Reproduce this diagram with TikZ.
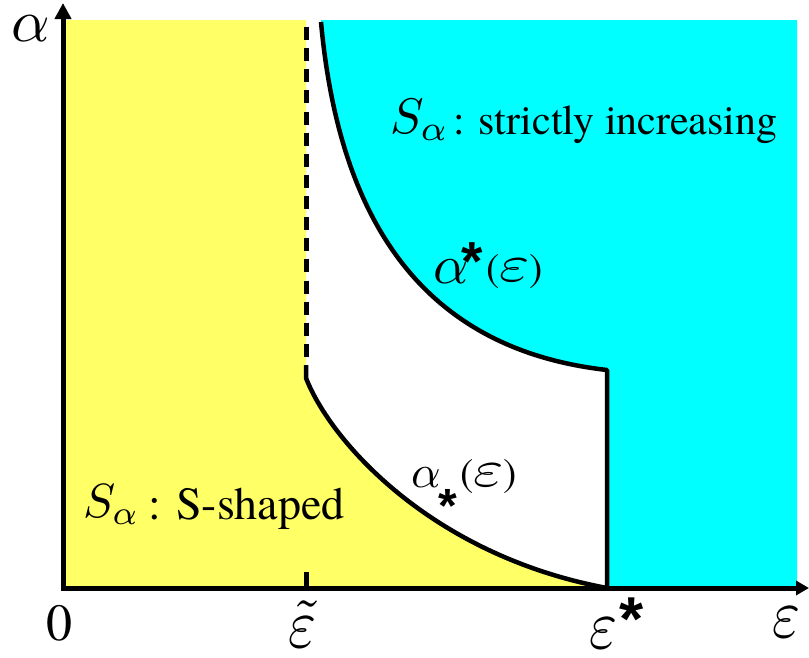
\documentclass[tikz,border=0pt]{standalone}
\usepackage{fontspec}
\newfontfamily\tnr{texgyretermes-regular.otf}
\newfontfamily\starfont{Liberation Sans}
\usepackage{graphicx}
\usetikzlibrary{arrows.meta}
\definecolor{myyellow}{RGB}{255,255,102}
\definecolor{mycyan}{RGB}{0,255,255}
\newcommand{\myfs}[1]{\fontsize{#1}{#1}\selectfont}
% math scaled from 10pt: \mth{xscale}{yscale}{math}
\newcommand{\mth}[3]{\scalebox{#1}[#2]{\fontsize{10}{12}\selectfont$#3$}}
\tikzset{
  curveline/.style={line width=4.5pt, line join=round},
  dashline/.style={line width=5pt, dash pattern=on 13pt off 8.13pt},
  axisline/.style={line width=5pt, line join=miter,
    {Triangle[width=16pt,length=16pt]}-{Triangle[width=14pt,length=13pt]}},
  lbl/.style={inner sep=0pt, outer sep=0pt, font=\tnr},
  starlbl/.style={inner sep=0pt, outer sep=0pt, anchor=north, font=\starfont\bfseries},
}
\begin{document}
\begin{tikzpicture}[x=1pt,y=-1pt]
\useasboundingbox (0,0) rectangle (809,657);
\coordinate (ytip) at (63,3);
\coordinate (O) at (63,588);
\coordinate (xtip) at (809,588);
\coordinate (ustart) at (321,22);
\coordinate (uend) at (607,370);
\coordinate (lstart) at (306,378);
\coordinate (lsolid) at (306,365);
\coordinate (lend) at (607,588);
\coordinate (dtop) at (306,27);
\coordinate (dbot) at (306,357);
\coordinate (tickt) at (306,572);
\coordinate (tickb) at (306,588);
% regions
\fill[myyellow] (63,20) -- (306,20) -- (lstart) .. controls (330,440) and (430,555) .. (lend) -- (O) -- cycle;
\fill[mycyan] (321,20) -- (ustart) .. controls (340,230) and (430,350) .. (uend) -- (lend) -- (797,588) -- (797,20) -- cycle;
% curves
\draw[curveline] (ustart) .. controls (340,230) and (430,350) .. (uend) -- (lend);
\draw[curveline] (lsolid) -- (lstart) .. controls (330,440) and (430,555) .. (lend);
\draw[dashline] (dtop) -- (dbot);
\draw[line width=5pt] (tickt) -- (tickb);
% axes
\draw[axisline] (ytip) -- (O) -- (xtip);
% labels
\node[lbl] (lalpha) at (31,29) {\mth{6}{6}{\alpha}};
\node[lbl] (lzero) at (59,623) {\myfs{52}0};
\node[lbl, anchor=base] (ltilde) at (302,647) {\mth{6}{7}{\tilde{\varepsilon}}};
\node[lbl, anchor=base west] (lestar) at (589,648) {\mth{6}{7}{\varepsilon}};
\node[starlbl] (lestars) at (632,598) {\myfs{62}*};
\node[lbl, anchor=base west] (leps) at (772,637) {\mth{6}{7}{\varepsilon}};
\node[lbl, anchor=base west] (suS) at (390,133) {\mth{5}{5}{S_{\alpha}}};
\node[lbl, anchor=base west] (sut) at (453,134) {\myfs{42}: strictly increasing};
\node[lbl, anchor=base west] (slS) at (83,517) {\mth{4.8}{4.8}{S_{\alpha}}};
\node[lbl, anchor=base west] (slt) at (148,519) {\myfs{46}: S-shaped};
\node[lbl, anchor=base west] (aup) at (433,283) {\mth{5.5}{5.5}{\alpha}};
\node[starlbl] (aupstar) at (472,243) {\myfs{55}*};
\node[lbl, anchor=base west] (auparg) at (486,281) {{\myfs{40}(}\mth{6.5}{5.2}{\varepsilon}{\myfs{40})}};
\node[lbl, anchor=base west] (alo) at (411,487) {\mth{4.6}{4.6}{\alpha}};
\node[starlbl] (alostar) at (448,489) {\myfs{48}*};
\node[lbl, anchor=base west] (aloarg) at (460,486) {{\myfs{40}(}\mth{6.5}{5.2}{\varepsilon}{\myfs{40})}};
\end{tikzpicture}
\end{document}
